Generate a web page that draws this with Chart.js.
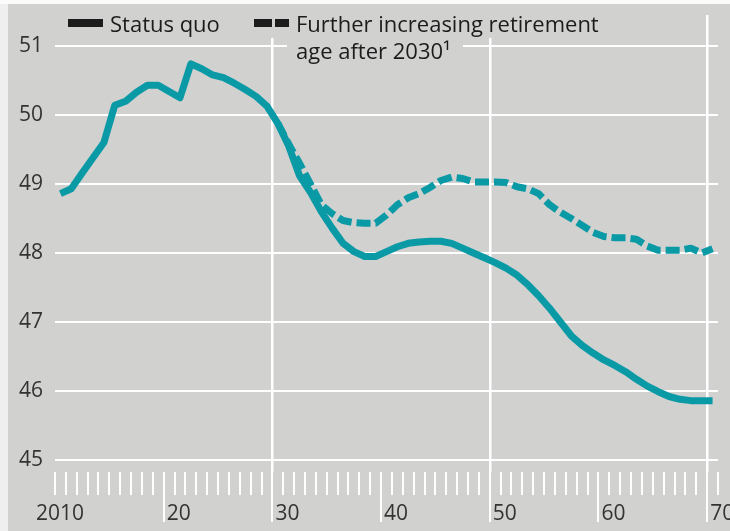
<!DOCTYPE html>
<html>
<head>
<meta charset="utf-8">
<script src="https://cdn.jsdelivr.net/npm/chart.js@4"></script>
<style>
  html, body { margin: 0; padding: 0; background: #d1d1d0; }
  canvas { display: block; }
</style>
</head>
<body>
<canvas id="chart" width="730" height="531"></canvas>
<script>
// years shown on the chart
const years = Array.from({ length: 61 }, (_, i) => 2010 + i);

// status quo, 2010..2070
const statusQuo = [
  48.86, 48.93, 49.16, 49.38, 49.60, 50.14, 50.20, 50.33, 50.43, 50.43,
  50.34, 50.25, 50.74, 50.67, 50.58, 50.54, 50.46, 50.37, 50.27, 50.13,
  49.88, 49.55, 49.12, 48.88, 48.60, 48.36, 48.14, 48.02, 47.95, 47.95,
  48.02, 48.09, 48.14, 48.16, 48.17, 48.17, 48.14, 48.07, 48.00, 47.93,
  47.86, 47.78, 47.68, 47.54, 47.38, 47.20, 47.00, 46.80, 46.66, 46.55,
  46.45, 46.37, 46.28, 46.17, 46.07, 45.99, 45.92, 45.88, 45.86, 45.86,
  45.86
];

// further increasing retirement age, 2030..2070
const furtherFrom = 2030;
const furtherIncrease = [
  49.88, 49.58, 49.30, 49.00, 48.70, 48.57, 48.47, 48.44, 48.43, 48.43,
  48.55, 48.70, 48.80, 48.86, 48.95, 49.05, 49.10, 49.08, 49.03, 49.03,
  49.03, 49.02, 48.96, 48.93, 48.86, 48.70, 48.59, 48.50, 48.40, 48.30,
  48.24, 48.22, 48.22, 48.20, 48.10, 48.04, 48.04, 48.04, 48.07, 48.00,
  48.06
];

const yTicks = [45, 46, 47, 48, 49, 50, 51];
const xTickYears = Array.from({ length: 62 }, (_, i) => 2010 + i);
const xLabels = { 2010: '2010', 2020: '20', 2030: '30', 2040: '40', 2050: '50', 2060: '60', 2070: '70' };
const fullLines = [2030, 2050, 2070];

const BG = '#d1d1d0';
const TEAL = '#0a9aa6';
const FONT = '"Open Sans", "Noto Sans", sans-serif';

Chart.defaults.font.family = FONT;

// background, year ticks, x labels and legend
const decor = {
  id: 'decor',
  beforeDraw(chart) {
    const ctx = chart.ctx;
    ctx.save();
    ctx.fillStyle = BG;
    ctx.fillRect(0, 0, chart.width, chart.height);
    ctx.fillStyle = '#efefef';
    ctx.fillRect(0, 0, 8, chart.height);
    ctx.fillStyle = '#fbfbfb';
    ctx.fillRect(0, 0, chart.width, 4);
    ctx.restore();
  },
  afterDraw(chart) {
    const ctx = chart.ctx;
    const x = chart.scales.x;
    const bottom = chart.chartArea.bottom;
    ctx.save();

    // year ticks
    ctx.strokeStyle = '#ffffff';
    ctx.lineWidth = 2;
    xTickYears.forEach(yr => {
      const px = Math.round(x.getPixelForValue(yr));
      let end = bottom + 23;
      if (yr % 10 === 0 && yr !== 2010) end = bottom + 50;
      ctx.beginPath();
      ctx.moveTo(px, bottom);
      ctx.lineTo(px, end);
      ctx.stroke();
    });

    // x labels
    ctx.fillStyle = '#333333';
    ctx.font = '21px ' + FONT;
    ctx.textBaseline = 'middle';
    Object.keys(xLabels).forEach(k => {
      const yr = Number(k);
      const px = x.getPixelForValue(yr);
      if (yr === 2010) {
        ctx.textAlign = 'center';
        ctx.fillText(xLabels[k], px + 5, 514);
      } else {
        ctx.textAlign = 'left';
        ctx.fillText(xLabels[k], px + 3, 514);
      }
    });

    // legend
    ctx.fillStyle = BG;
    ctx.fillRect(250, 4, 358, 34);
    ctx.fillRect(287, 38, 176, 30);
    ctx.fillStyle = '#1c1c1c';
    ctx.fillRect(68, 19, 35, 8);
    ctx.fillRect(254, 19, 18, 8);
    ctx.fillRect(275, 19, 14, 8);
    ctx.font = '22px ' + FONT;
    ctx.textAlign = 'left';
    ctx.textBaseline = 'alphabetic';
    ctx.fillText('Status quo', 110, 32);
    ctx.fillText('Further increasing retirement', 296, 32);
    ctx.fillText('age after 2030\u00b9', 296, 59);
    ctx.restore();
  }
};

new Chart(document.getElementById('chart'), {
  type: 'line',
  data: {
    datasets: [
      {
        label: 'Status quo',
        data: years.map((yr, i) => ({ x: yr + 0.5, y: statusQuo[i] })),
        borderColor: TEAL,
        borderWidth: 7,
        pointRadius: 0,
        borderJoinStyle: 'round',
        tension: 0
      },
      {
        label: 'Further increasing retirement age after 2030',
        data: furtherIncrease.map((v, i) => ({ x: furtherFrom + i + 0.5, y: v })),
        borderColor: TEAL,
        borderWidth: 7,
        borderDash: [14, 5],
        pointRadius: 0,
        borderJoinStyle: 'round',
        tension: 0
      }
    ]
  },
  options: {
    responsive: false,
    animation: false,
    layout: { padding: { top: 15, right: 12, bottom: 59, left: 0 } },
    plugins: { legend: { display: false }, tooltip: { enabled: false } },
    scales: {
      x: {
        type: 'linear',
        min: 2010,
        max: 2071,
        ticks: { display: false, stepSize: 1 },
        border: { display: false },
        grid: {
          drawTicks: false,
          lineWidth: 2.5,
          color: c => fullLines.includes(c.tick && c.tick.value) ? '#ffffff' : 'rgba(0,0,0,0)'
        },
        afterBuildTicks: s => { s.ticks = xTickYears.map(v => ({ value: v })); },
        afterFit: s => { s.height = 0; s.paddingLeft = 0; s.paddingRight = 0; }
      },
      y: {
        min: 44.826,
        max: 51.449,
        ticks: { color: '#333333', padding: 12, font: { size: 21 } },
        border: { display: false },
        grid: { drawTicks: false, color: '#ffffff', lineWidth: 2 },
        afterBuildTicks: s => { s.ticks = yTicks.map(v => ({ value: v })); },
        afterFit: s => { s.width = 55; s.paddingTop = 0; s.paddingBottom = 0; }
      }
    }
  },
  plugins: [decor]
});
</script>
</body>
</html>
